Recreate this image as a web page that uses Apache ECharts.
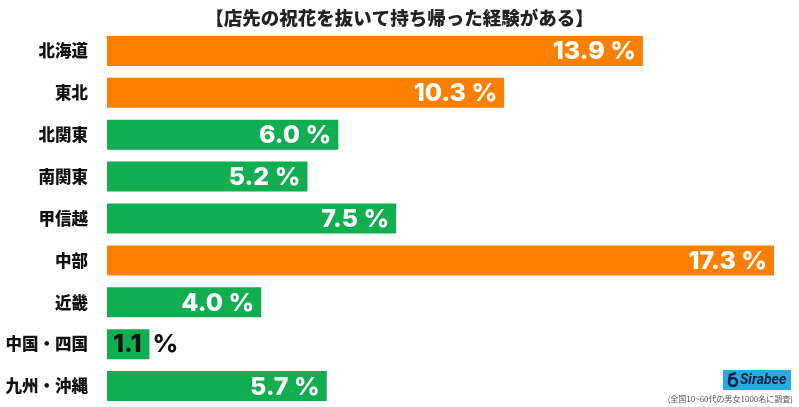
<!DOCTYPE html>
<html><head><meta charset="utf-8">
<script src="https://cdn.jsdelivr.net/npm/echarts@6/dist/echarts.min.js"></script>
<style>html,body{margin:0;padding:0;background:#fff}#c{width:799px;height:407px}</style>
</head><body><div id="c"></div>
<script>
const categories = ['北海道','東北','北関東','南関東','甲信越','中部','近畿','中国・四国','九州・沖縄'];
const values = [13.9, 10.3, 6.0, 5.2, 7.5, 17.3, 4.0, 1.1, 5.7];
const highlight = [true, true, false, false, false, true, false, false, false];
const titleText = '【店先の祝花を抜いて持ち帰った経験がある】';
const noteText = '(全国10~60代の男女1000名に調査)';

const ORANGE = '#ff8000', GREEN = '#10ad51';
const chart = echarts.init(document.getElementById('c'));
const data = values.map((v, i) => {
  const item = { value: v, itemStyle: { color: highlight[i] ? ORANGE : GREEN } };
  if (v < 2) {
    item.label = { position: 'insideLeft', offset: [1, 0], color: '#111',
      formatter: p => p.value.toFixed(1) + '  %' };
  }
  return item;
});
chart.setOption({
  animation: false,
  title: { text: titleText, left: 'center', top: 4,
    textStyle: { fontFamily: 'Noto Sans CJK JP', fontWeight: 900, fontSize: 18.5, color: '#222' } },
  grid: { left: 107, right: 25, top: 30, bottom: -1, containLabel: false },
  xAxis: { type: 'value', min: 0, max: 17.3, show: false },
  yAxis: { type: 'category', data: categories, inverse: true,
    axisLine: { show: false }, axisTick: { show: false },
    axisLabel: { margin: 19, fontFamily: 'Noto Sans CJK JP', fontWeight: 900, fontSize: 16.5, color: '#111' } },
  series: [{
    type: 'bar', data: data, barWidth: 30,
    label: { show: true, position: 'insideRight', offset: [-2, 1], color: '#fff',
      fontFamily: 'Inter', fontWeight: 800, fontSize: 25,
      formatter: p => p.value.toFixed(1) + ' %' }
  }],
  graphic: [
    { type: 'rect', shape: { x: 723, y: 370, width: 68, height: 20 }, style: { fill: '#27aae1' } },
    { type: 'circle', shape: { cx: 733, cy: 382, r: 4 }, style: { fill: 'none', stroke: '#0d2240', lineWidth: 2.5 } },
    { type: 'polyline', shape: { points: [[729, 382], [730, 375], [736, 373]] }, style: { fill: 'none', stroke: '#0d2240', lineWidth: 2.5 } },
    { type: 'text', style: { x: 740, y: 380, text: 'Sirabee', fill: '#0d2240', font: 'italic bold 14px Roboto', verticalAlign: 'middle' } },
    { type: 'text', style: { x: 793, y: 399, text: noteText, fill: '#555', font: '8px "Noto Sans CJK JP"', align: 'right', verticalAlign: 'middle' } }
  ]
});
</script></body></html>
